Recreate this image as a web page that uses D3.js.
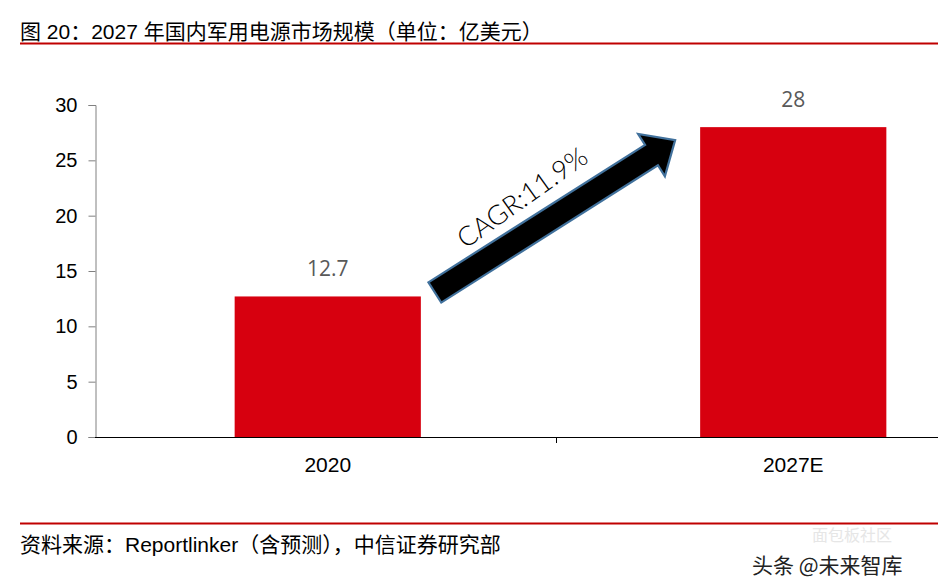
<!DOCTYPE html>
<html><head><meta charset="utf-8">
<script src="https://cdn.jsdelivr.net/npm/d3@7/dist/d3.min.js"></script>
<style>body{margin:0;background:#fff}svg{display:block}</style>
</head><body><svg id="c" width="938" height="586"></svg>
<script>
const categories = ["2020", "2027E"];
const values = [12.7, 28];
const valueLabels = ["12.7", "28"];
const yTicks = [0, 5, 10, 15, 20, 25, 30];
const titleText = "图 20：2027 年国内军用电源市场规模（单位：亿美元）";
const sourceText = "资料来源：Reportlinker（含预测），中信证券研究部";
const cagrText = "CAGR:11.9%";

const svg = d3.select("#c");
const red = "#c00000";
const barColor = "#d7000f";
const cjk = "'Liberation Sans','Noto Sans CJK SC',sans-serif";

// title
svg.append("text").attr("x", 20).attr("y", 39).attr("font-family", cjk)
  .attr("font-size", 21).attr("fill", "#000").text(titleText);
svg.append("line").attr("x1", 20).attr("x2", 938).attr("y1", 43.5).attr("y2", 43.5)
  .attr("stroke", red).attr("stroke-width", 2);

// scales
const x = d3.scaleBand().domain(categories).range([95, 1026]).paddingInner(0.6).paddingOuter(0.3);
const xb = d3.scaleBand().domain(categories).range([95, 1017]);
const y = d3.scaleLinear().domain([0, 30]).range([437, 105]);

// y axis
const ya = svg.append("g").attr("transform", "translate(95.5,0)")
  .call(d3.axisLeft(y).tickValues(yTicks).tickSize(7).tickPadding(11));
ya.select(".domain").attr("stroke", "#808080");
ya.selectAll(".tick line").attr("stroke", "#808080");
ya.selectAll("text").attr("font-family", "'Liberation Sans',Arial,sans-serif").attr("font-size", 20).attr("fill", "#000");

// bars
svg.selectAll("rect.bar").data(values).enter().append("rect").attr("class", "bar")
  .attr("x", (d, i) => x(categories[i])).attr("width", x.bandwidth())
  .attr("y", d => y(d)).attr("height", d => y(0) - y(d)).attr("fill", barColor);

// x axis
svg.append("line").attr("x1", 95).attr("x2", 938).attr("y1", 437.5).attr("y2", 437.5).attr("stroke", "#000");
svg.append("line").attr("x1", xb(categories[1]) + 0.5).attr("x2", xb(categories[1]) + 0.5)
  .attr("y1", 437).attr("y2", 443).attr("stroke", "#000");
svg.selectAll("text.xl").data(categories).enter().append("text").attr("class", "xl")
  .attr("x", d => x(d) + x.bandwidth() / 2).attr("y", 472).attr("text-anchor", "middle")
  .attr("font-family", "'Liberation Sans',Arial,sans-serif").attr("font-size", 21).text(d => d);

// value labels
svg.selectAll("text.vl").data(values).enter().append("text").attr("class", "vl")
  .attr("x", (d, i) => x(categories[i]) + x.bandwidth() / 2).attr("y", d => y(d) - 20)
  .attr("text-anchor", "middle").attr("font-family", "'Open Sans','Liberation Sans',sans-serif")
  .attr("font-size", 21).attr("fill", "#595959").text((d, i) => valueLabels[i]);

// CAGR arrow (anchored to bar tops)
const x0 = x(categories[0]) + x.bandwidth() + 14, y0 = y(values[0]) - 4;
const x1 = x(categories[1]) - 25, y1 = y(values[1]) + 13;
const L = Math.hypot(x1 - x0, y1 - y0);
const ang = Math.atan2(y1 - y0, x1 - x0) * 180 / Math.PI;
const hw = 12, hh = 25, hl = 28;
const pts = [[0, -hw], [L - hl, -hw], [L - hl, -hh], [L, 0], [L - hl, hh], [L - hl, hw], [0, hw]];
const ag = svg.append("g").attr("transform", `translate(${x0},${y0}) rotate(${ang})`);
ag.append("polygon").attr("points", pts.map(p => p.join(",")).join(" "))
  .attr("fill", "#000").attr("stroke", "#41719c").attr("stroke-width", 2.2).attr("stroke-linejoin", "miter");
const tx = L * 0.44, ty = -hw - 12;
ag.append("text").attr("x", tx).attr("y", ty).attr("text-anchor", "middle")
  .attr("font-family", "Lato,'Open Sans',sans-serif").attr("font-weight", 300)
  .attr("font-size", 27).attr("fill", "#000").attr("transform", `rotate(-3 ${tx} ${ty})`).text(cagrText);

// footer
svg.append("line").attr("x1", 20).attr("x2", 938).attr("y1", 523.5).attr("y2", 523.5)
  .attr("stroke", red).attr("stroke-width", 2);
svg.append("text").attr("x", 20).attr("y", 552).attr("font-family", cjk)
  .attr("font-size", 21).attr("fill", "#000").text(sourceText);

// watermark
svg.append("text").attr("x", 812).attr("y", 541).attr("font-family", "'Noto Sans CJK SC',sans-serif")
  .attr("font-size", 16).attr("fill", "#e6e6e6").text("面包板社区");
svg.append("text").attr("x", 752).attr("y", 573).attr("font-family", "'Noto Sans CJK SC',sans-serif")
  .attr("font-size", 21).attr("fill", "#222").text("头条 @未来智库");
</script></body></html>
